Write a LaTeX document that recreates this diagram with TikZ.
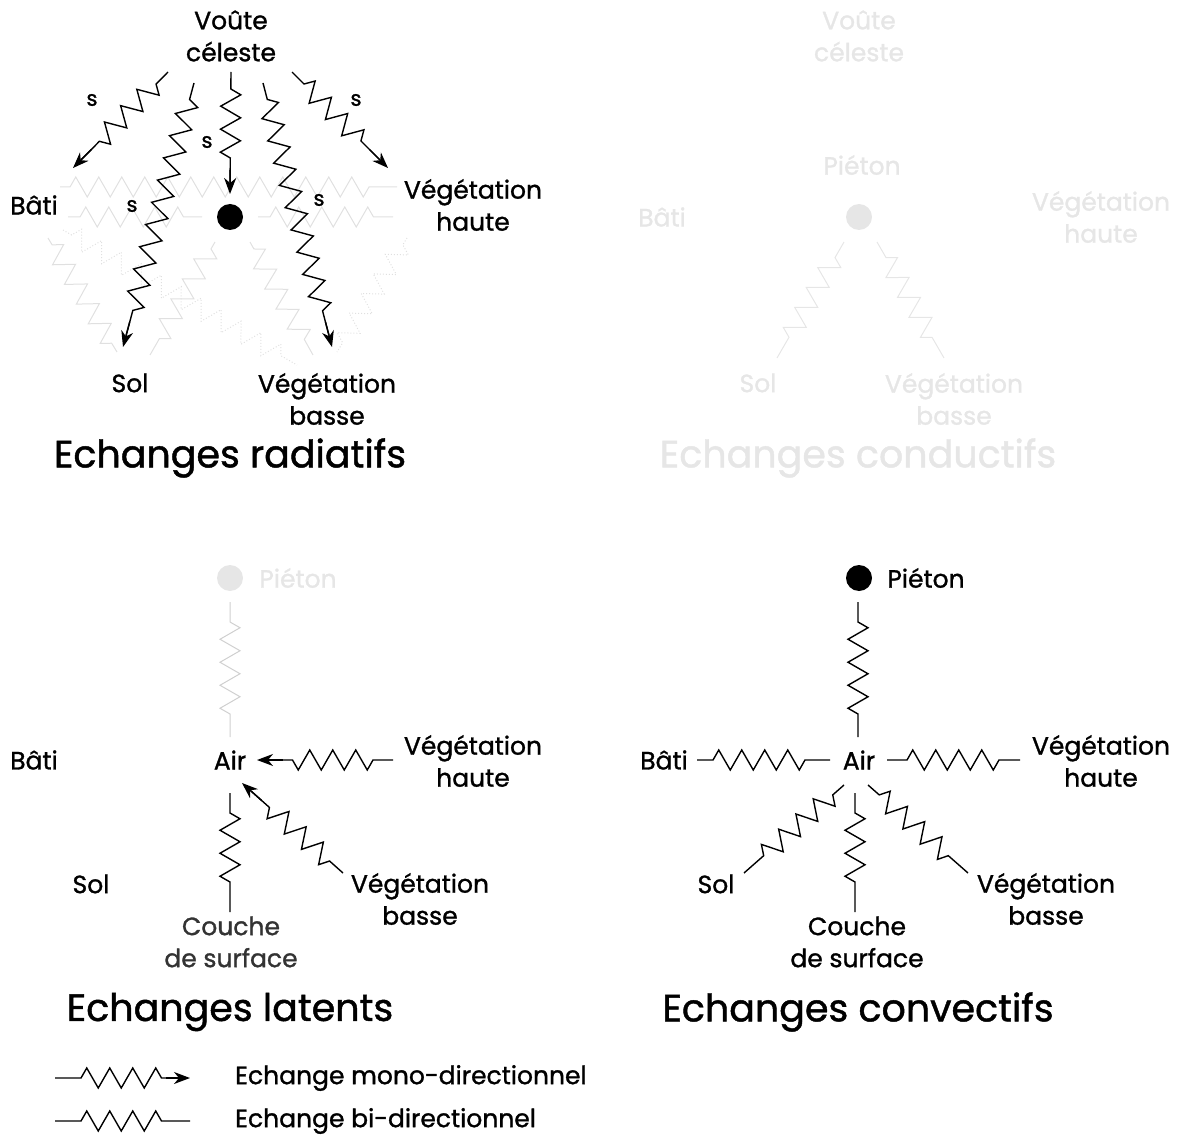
\documentclass[tikz,border=0pt]{standalone}
\usepackage{fontspec}
\setmainfont{Poppins}[FakeBold=1.2]
\usetikzlibrary{decorations.pathmorphing,arrows.meta,calc}
\definecolor{faint}{HTML}{E6E6E6}
\definecolor{faintline}{HTML}{E0E0E0}
\definecolor{midgrey}{HTML}{CFCFCF}
\definecolor{dark}{HTML}{333333}
\begin{document}
\begin{tikzpicture}[x=1pt,y=-1pt,
  lab/.style={font=\fontsize{25}{32}\selectfont, align=center, inner sep=0pt},
  ttl/.style={font=\fontsize{38}{42}\selectfont, inner sep=0pt},
  sl/.style={font=\fontsize{21}{24}\selectfont, inner sep=0pt},
  zig/.style 2 args={decorate,decoration={zigzag,segment length=23pt,amplitude=10pt,pre length=#1,post length=#2}},
  blk/.style={line width=1.4pt, black, line join=miter},
  fnt/.style={line width=1pt, faintline},
  fdot/.style={line width=1pt, faintline, dotted},
  headtip/.style={line width=1.4pt, black, -{Stealth[length=16pt,width=12pt,inset=5pt]}},
  dotn/.style={circle, fill=black, minimum size=26pt, inner sep=0pt}
]
\path[use as bounding box] (0,0) rectangle (1180,1139);

% ---------------- Panel 1 : radiatifs ----------------
% faint background exchanges
\coordinate (h1s) at (60,187);  \coordinate (h1e) at (397,187);
\coordinate (h2s) at (68,217);  \coordinate (h2e) at (202,217);
\coordinate (h3s) at (258,217); \coordinate (h3e) at (393,217);
\coordinate (d1s) at (48,238);  \coordinate (d1e) at (117,352);
\coordinate (d4s) at (215,242); \coordinate (d4e) at (150,355);
\coordinate (d5s) at (250,242); \coordinate (d5e) at (313,355);
\coordinate (d2s) at (63,230);  \coordinate (d2e) at (297,365);
\coordinate (d6s) at (407,238); \coordinate (d6e) at (337,352);
\draw[fnt, zig={10pt}{19pt}] (h1s) -- (h1e);
\draw[fnt, zig={12pt}{12pt}] (h2s) -- (h2e);
\draw[fnt, zig={12pt}{12pt}] (h3s) -- (h3e);
\draw[fnt, zig={8pt}{8pt}] (d1s) -- (d1e);
\draw[fnt, zig={8pt}{8pt}] (d4s) -- (d4e);
\draw[fnt, zig={8pt}{8pt}] (d5s) -- (d5e);
\draw[fdot, zig={10pt}{10pt}] (d2s) -- (d2e);
\draw[fdot, zig={8pt}{8pt}] (d6s) -- (d6e);

\node[lab] (voute1) at (231,36) {Voûte\\céleste};
\node[lab] (bati1) at (34,205) {Bâti};
\node[lab] (vh1) at (473,205) {Végétation\\haute};
\node[lab] (sol1) at (130,383) {Sol};
\node[lab] (vb1) at (327,399) {Végétation\\basse};
\node[dotn] (p1) at (230,217) {};
\node[ttl] (t1) at (230,458) {Echanges radiatifs};

\coordinate (a1s) at (168,72);  \coordinate (a1e) at (73,168);
\coordinate (b1s) at (194,83);  \coordinate (b1e) at (123,347);
\coordinate (c1s) at (231,72);  \coordinate (c1e) at (230,194);
\coordinate (e1s) at (263,83);  \coordinate (e1e) at (332,347);
\coordinate (f1s) at (292,72);  \coordinate (f1e) at (388,168);
\foreach \s/\e in {a1s/a1e,b1s/b1e,c1s/c1e,e1s/e1e,f1s/f1e}{
  \draw[blk, zig={17pt}{24pt}] (\s) -- ($(\e)!12pt!(\s)$);
  \draw[headtip] ($(\e)!26pt!(\s)$) -- (\e);
}
\node[sl] (s1a) at (92,100) {s};
\node[sl] (s1b) at (132,206) {s};
\node[sl] (s1c) at (207,142) {s};
\node[sl] (s1d) at (319,200) {s};
\node[sl] (s1e) at (356,100) {s};

% ---------------- Panel 2 : conductifs ----------------
\node[lab, text=faint] (voute2) at (859,36) {Voûte\\céleste};
\node[lab, text=faint] (piet2) at (862,165) {Piéton};
\node[lab, text=faint] (bati2) at (662,217) {Bâti};
\node[lab, text=faint] (vh2) at (1101,217) {Végétation\\haute};
\node[dotn, fill=faint] (p2) at (859,217) {};
\node[lab, text=faint] (sol2) at (758,383) {Sol};
\node[lab, text=faint] (vb2) at (954,399) {Végétation\\basse};
\node[ttl, text=faint] (t2) at (858,458) {Echanges conductifs};
\coordinate (g2s) at (844,242); \coordinate (g2e) at (777,358);
\coordinate (k2s) at (877,242); \coordinate (k2e) at (944,358);
\draw[line width=1pt, faint, zig={18pt}{18pt}] (g2s) -- (g2e);
\draw[line width=1pt, faint, zig={18pt}{18pt}] (k2s) -- (k2e);

% ---------------- Panel 3 : latents ----------------
\node[dotn, fill=faint] (p3) at (230,578) {};
\node[lab, text=faint] (piet3) at (298,578) {Piéton};
\node[lab] (air3) at (230,760) {Air};
\node[lab] (bati3) at (34,760) {Bâti};
\node[lab] (vh3) at (473,761) {Végétation\\haute};
\node[lab] (sol3) at (91,884) {Sol};
\node[lab] (vb3) at (420,899) {Végétation\\basse};
\node[lab, text=dark] (cs3) at (231,942) {Couche\\de surface};
\node[ttl] (t3) at (230,1012) {Echanges latents};
\coordinate (v3s) at (230,602); \coordinate (v3e) at (230,737);
\coordinate (h3as) at (393,760); \coordinate (h3ae) at (257,760);
\coordinate (b3s) at (343,873); \coordinate (b3e) at (242,783);
\coordinate (c3s) at (230,793); \coordinate (c3e) at (230,912);
\draw[line width=1pt, midgrey, zig={20pt}{17pt}] (v3s) -- (v3e);
\draw[blk, zig={20pt}{13pt}] (h3as) -- ($(h3ae)!12pt!(h3as)$);
\draw[headtip] ($(h3ae)!26pt!(h3as)$) -- (h3ae);
\draw[blk, zig={18pt}{13pt}] (b3s) -- ($(b3e)!12pt!(b3s)$);
\draw[headtip] ($(b3e)!26pt!(b3s)$) -- (b3e);
\draw[blk, zig={20pt}{19pt}] (c3s) -- (c3e);

% ---------------- Panel 4 : convectifs ----------------
\node[dotn] (p4) at (859,578) {};
\node[lab] (piet4) at (926,578) {Piéton};
\node[lab] (air4) at (859,760) {Air};
\node[lab] (bati4) at (664,760) {Bâti};
\node[lab] (vh4) at (1101,761) {Végétation\\haute};
\node[lab] (sol4) at (716,884) {Sol};
\node[lab] (vb4) at (1046,899) {Végétation\\basse};
\node[lab] (cs4) at (857,942) {Couche\\de surface};
\node[ttl] (t4) at (858,1012) {Echanges convectifs};
\coordinate (v4s) at (858,602); \coordinate (v4e) at (858,737);
\coordinate (w4s) at (697,760); \coordinate (w4e) at (830,760);
\coordinate (r4s) at (887,760); \coordinate (r4e) at (1020,760);
\coordinate (so4s) at (844,785); \coordinate (so4e) at (744,873);
\coordinate (c4s) at (855,793); \coordinate (c4e) at (855,912);
\coordinate (vb4s) at (868,785); \coordinate (vb4e) at (968,873);
\draw[blk, zig={20pt}{17pt}] (v4s) -- (v4e);
\draw[blk, zig={16pt}{20pt}] (w4s) -- (w4e);
\draw[blk, zig={20pt}{19pt}] (r4s) -- (r4e);
\draw[blk, zig={15pt}{15pt}] (so4s) -- (so4e);
\draw[blk, zig={20pt}{19pt}] (c4s) -- (c4e);
\draw[blk, zig={15pt}{15pt}] (vb4s) -- (vb4e);

% ---------------- Legend ----------------
\coordinate (l1s) at (55,1078); \coordinate (l1e) at (190,1078);
\coordinate (l2s) at (55,1121); \coordinate (l2e) at (190,1121);
\draw[blk, zig={26pt}{12pt}] (l1s) -- ($(l1e)!12pt!(l1s)$);
\draw[headtip] ($(l1e)!24pt!(l1s)$) -- (l1e);
\draw[blk, zig={26pt}{24pt}] (l2s) -- (l2e);
\node[lab, anchor=west] (leg1) at (235,1078) {Echange mono-directionnel};
\node[lab, anchor=west] (leg2) at (235,1121) {Echange bi-directionnel};
\end{tikzpicture}
\end{document}
